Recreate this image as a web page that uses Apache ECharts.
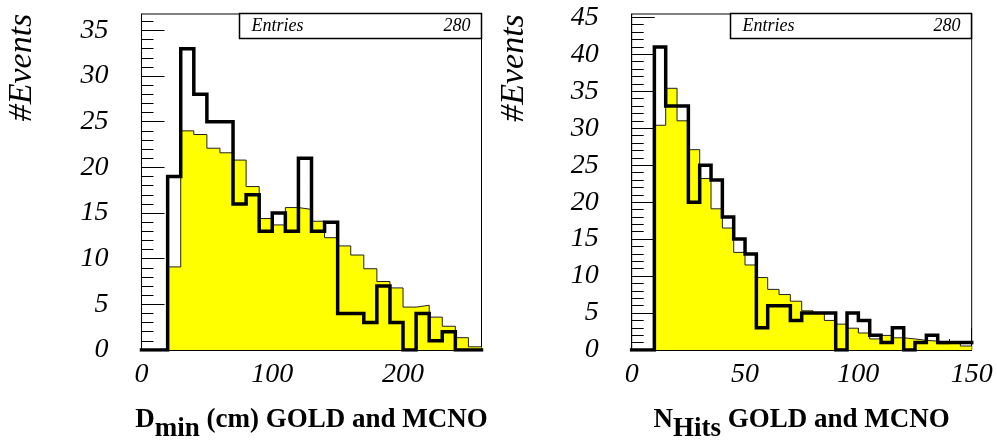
<!DOCTYPE html>
<html><head><meta charset="utf-8">
<script src="https://cdn.jsdelivr.net/npm/echarts@6/dist/echarts.min.js"></script>
<style>html,body{margin:0;padding:0;background:#fff}#c{width:997px;height:448px}</style>
</head><body><div id="c"></div><script>
// ---------- Left panel: D_min (cm) ----------
const dminBins = [0,10,20,30,40,50,60,70,80,90,100,110,120,130,140,150,160,170,180,190,200,210,220,230,240,250];
const dminGold = [0,0,19,33,28,25,25,16,17,13,15,13,21,13,14,4,4,3,7,3,0,4,1,2,0,0];
const dminMcno = [0,0,9.1,24.0,23.6,22.1,21.6,20.8,17.9,14.4,13.7,15.6,15.4,14.1,12.3,11.4,10.4,8.9,7.5,6.8,4.7,4.9,3.6,2.6,1.35,0.35];
const dminXTicks = [0,100,200];
const dminXMinor = [20,40,60,80,120,140,160,180,220,240];
const dminYTicks = [0,5,10,15,20,25,30,35];
const dminYMinor = [1,2,3,4,6,7,8,9,11,12,13,14,16,17,18,19,21,22,23,24,26,27,28,29,31,32,33,34,36];
const dminXMax = 260, dminYMax = 36.8;

// ---------- Right panel: N_Hits ----------
const nhitsBins = [0,5,10,15,20,25,30,35,40,45,50,55,60,65,70,75,80,85,90,95,100,105,110,115,120,125,130,135,140,145];
const nhitsGold = [0,0,41,33,33,20,25,23,18,15,13,3,6,6,4,5,5,5,0,5,4,2,1,3,0,1,2,1,1,1];
const nhitsMcno = [0,0,30.4,35.4,31.0,27.1,23.2,19.1,16.5,13.2,11.5,9.8,8.2,7.5,6.6,5.3,5.0,4.0,3.5,2.95,2.3,1.5,1.97,1.65,1.5,1.3,1.2,0.85,1.0,0.54];
const nhitsXTicks = [0,50,100,150];
const nhitsXMinor = [10,20,30,40,60,70,80,90,110,120,130,140];
const nhitsYTicks = [0,5,10,15,20,25,30,35,40,45];
const nhitsYMinor = [1,2,3,4,6,7,8,9,11,12,13,14,16,17,18,19,21,22,23,24,26,27,28,29,31,32,33,34,36,37,38,39,41,42,43,44];
const nhitsXMax = 150, nhitsYMax = 45.45;

const entries = 280;
const FONT = '"Liberation Serif","Times New Roman",serif';

function stepData(bins, vals) {
  const w = bins[1] - bins[0];
  const d = bins.map((b, i) => [b, vals[i]]);
  d.push([bins[bins.length - 1] + w, vals[vals.length - 1]]);
  return d;
}

const titleRich = {
  b: {fontFamily: FONT, fontWeight: 'bold', fontSize: 27, lineHeight: 30, color: '#000', verticalAlign: 'top'},
  s: {fontFamily: FONT, fontWeight: 'bold', fontSize: 27, lineHeight: 30, color: '#000', verticalAlign: 'top', padding: [9, 0, 0, 0]}
};

function mainX(gi, max, ticks, name) {
  return {
    type: 'value', gridIndex: gi, position: 'bottom', min: 0, max: max,
    axisLine: {show: true, onZero: false, lineStyle: {color: '#000', width: 1}},
    axisTick: {show: true, inside: true, length: 22, customValues: ticks, lineStyle: {color: '#000', width: 1}},
    axisLabel: {show: true, customValues: ticks, margin: 11, color: '#000', fontFamily: FONT, fontStyle: 'italic', fontSize: 28},
    splitLine: {show: false},
    name: name, nameLocation: 'middle', nameGap: 57,
    nameTextStyle: {fontFamily: FONT, fontWeight: 'bold', fontSize: 27, color: '#000', rich: titleRich}
  };
}
function minorX(gi, max, ticks) {
  return {
    type: 'value', gridIndex: gi, position: 'bottom', min: 0, max: max,
    axisLine: {show: false}, axisLabel: {show: false}, splitLine: {show: false},
    axisTick: {show: true, inside: true, length: 11, customValues: ticks, lineStyle: {color: '#000', width: 1}}
  };
}
function mainY(gi, max, ticks) {
  return {
    type: 'value', gridIndex: gi, position: 'left', min: 0, max: max,
    axisLine: {show: true, onZero: false, lineStyle: {color: '#000', width: 1}},
    axisTick: {show: true, inside: true, length: 23, customValues: ticks, lineStyle: {color: '#000', width: 1}},
    axisLabel: {show: true, customValues: ticks, margin: 33, color: '#000', fontFamily: FONT, fontStyle: 'italic', fontSize: 28},
    splitLine: {show: false}
  };
}
function minorY(gi, max, ticks) {
  return {
    type: 'value', gridIndex: gi, position: 'left', min: 0, max: max,
    axisLine: {show: false}, axisLabel: {show: false}, splitLine: {show: false},
    axisTick: {show: true, inside: true, length: 12, customValues: ticks, lineStyle: {color: '#000', width: 1}}
  };
}

function fillSeries(xi, yi, bins, vals) {
  return {
    type: 'line', xAxisIndex: xi, yAxisIndex: yi, step: 'end', showSymbol: false, symbol: 'none',
    data: stepData(bins, vals), lineStyle: {color: '#222', width: 1},
    areaStyle: {color: '#ffff00', opacity: 1}, z: 2, silent: true
  };
}
function lineSeries(xi, yi, bins, vals) {
  return {
    type: 'line', xAxisIndex: xi, yAxisIndex: yi, step: 'end', showSymbol: false, symbol: 'none',
    data: stepData(bins, vals), lineStyle: {color: '#000', width: 3.5, join: 'miter', cap: 'square'}, z: 3, silent: true
  };
}

function statBox(x, w) {
  return [
    {type: 'rect', shape: {x: x, y: 13.5, width: w, height: 25}, style: {fill: '#fff', stroke: '#000', lineWidth: 1.5}, z: 10},
    {type: 'text', x: x + 12, y: 26.5, z: 11, style: {text: 'Entries', font: 'italic 18px ' + FONT, fill: '#000', align: 'left', verticalAlign: 'middle', textAlign: 'left', textVerticalAlign: 'middle'}},
    {type: 'text', x: x + w - 11, y: 26.5, z: 11, style: {text: String(entries), font: 'italic 18px ' + FONT, fill: '#000', align: 'right', verticalAlign: 'middle', textAlign: 'right', textVerticalAlign: 'middle'}}
  ];
}
function yTitle(x, y) {
  return {type: 'text', x: x, y: y, rotation: Math.PI / 2, z: 11,
    style: {text: '#Events', font: 'italic 34px ' + FONT, fill: '#000', align: 'center', verticalAlign: 'middle', textAlign: 'center', textVerticalAlign: 'middle'}};
}

const chart = echarts.init(document.getElementById('c'), null, {renderer: 'canvas'});
chart.setOption({
  animation: false,
  backgroundColor: '#fff',
  grid: [
    {left: 141.5, top: 14, width: 340, height: 339, show: true, borderColor: '#000', borderWidth: 1, containLabel: false},
    {left: 631.7, top: 14, width: 340, height: 339, show: true, borderColor: '#000', borderWidth: 1, containLabel: false}
  ],
  xAxis: [
    mainX(0, dminXMax, dminXTicks, '{b|D}{s|min}{b| (cm) GOLD and MCNO}'),
    minorX(0, dminXMax, dminXMinor),
    mainX(1, nhitsXMax, nhitsXTicks, '{b|N}{s|Hits}{b| GOLD and MCNO}'),
    minorX(1, nhitsXMax, nhitsXMinor)
  ],
  yAxis: [
    mainY(0, dminYMax, dminYTicks),
    minorY(0, dminYMax, dminYMinor),
    mainY(1, nhitsYMax, nhitsYTicks),
    minorY(1, nhitsYMax, nhitsYMinor)
  ],
  series: [
    fillSeries(0, 0, dminBins, dminMcno),
    lineSeries(0, 0, dminBins, dminGold),
    fillSeries(2, 2, nhitsBins, nhitsMcno),
    lineSeries(2, 2, nhitsBins, nhitsGold)
  ],
  graphic: [
    yTitle(22.5, 67.5),
    yTitle(514, 68),
    ...statBox(239.5, 242),
    ...statBox(730.5, 241)
  ]
});
</script></body></html>
